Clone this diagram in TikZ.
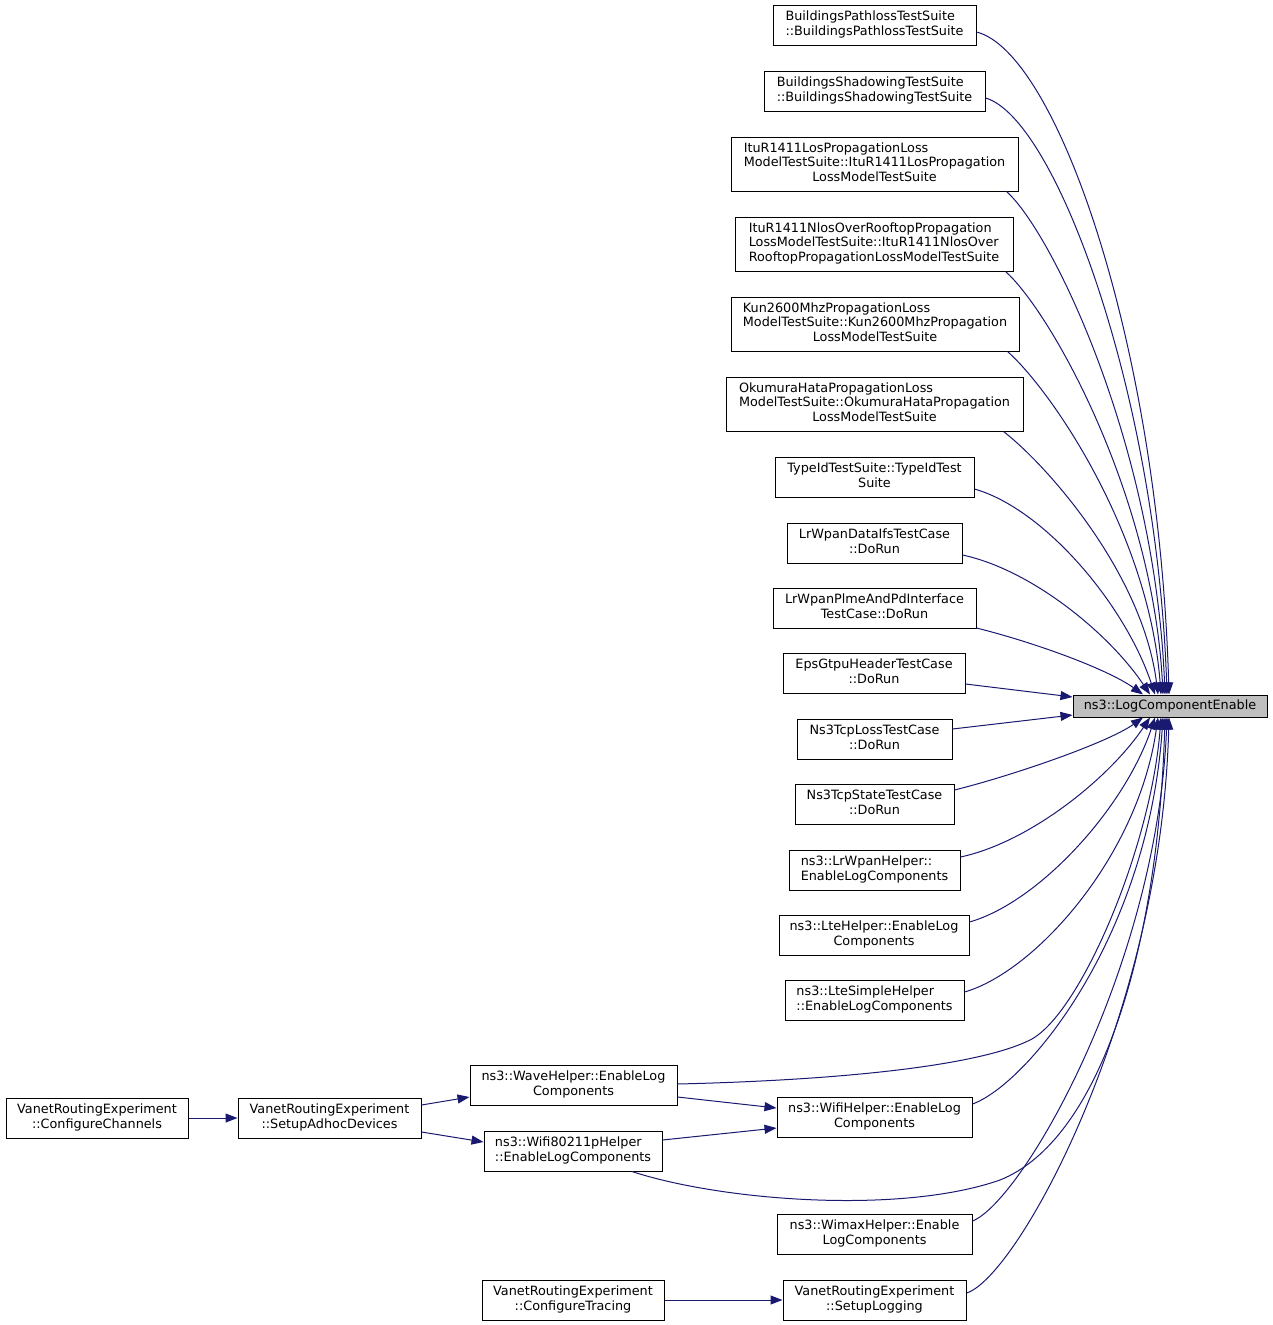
\documentclass[tikz,border=0pt]{standalone}
\usepackage{fontspec}
\setmainfont{DejaVu Sans}
\usetikzlibrary{arrows.meta}
\definecolor{edgeblue}{HTML}{191970}
\definecolor{maingrey}{HTML}{BFBFBF}
\newcommand{\twoline}[2]{\begin{tabular}{@{}l@{}}#1\\\multicolumn{1}{@{}c@{}}{#2}\end{tabular}}
\newcommand{\threeline}[3]{\begin{tabular}{@{}l@{}}#1\\#2\\\multicolumn{1}{@{}c@{}}{#3}\end{tabular}}
\tikzstyle{func} = [rectangle, minimum height=40pt, inner sep=0pt, text centered, draw=black, fill=white, line width=1pt, font=\fontsize{12.8}{14.5}\selectfont]
\tikzstyle{funcbig} = [func, minimum height=54pt]
\tikzstyle{target} = [func, minimum height=22pt, fill=maingrey]
\tikzstyle{arrow} = [-{Triangle[length=12pt,width=9pt]}, color=edgeblue, line width=1pt]

\begin{document}
\begin{tikzpicture}[x=1pt, y=-1pt]
\useasboundingbox (0,0) rectangle (1272,1325);
%被调用的函数
\node[target, minimum width=194pt](lce) at (1170,706){ns3::LogComponentEnable};
%调用者
\node[func, minimum width=203pt](bpl) at (874.5,25){\twoline{BuildingsPathlossTestSuite}{::BuildingsPathlossTestSuite}};
\node[func, minimum width=221pt](bsh) at (874.5,91){\twoline{BuildingsShadowingTestSuite}{::BuildingsShadowingTestSuite}};
\node[funcbig, minimum width=287pt](ilos) at (874.5,164){\threeline{ItuR1411LosPropagationLoss}{ModelTestSuite::ItuR1411LosPropagation}{LossModelTestSuite}};
\node[funcbig, minimum width=278pt](inlos) at (874,244){\threeline{ItuR1411NlosOverRooftopPropagation}{LossModelTestSuite::ItuR1411NlosOver}{RooftopPropagationLossModelTestSuite}};
\node[funcbig, minimum width=288pt](kun) at (875,324){\threeline{Kun2600MhzPropagationLoss}{ModelTestSuite::Kun2600MhzPropagation}{LossModelTestSuite}};
\node[funcbig, minimum width=297pt](oku) at (874.5,404){\threeline{OkumuraHataPropagationLoss}{ModelTestSuite::OkumuraHataPropagation}{LossModelTestSuite}};
\node[func, minimum width=199pt](tid) at (874.5,477){\twoline{TypeIdTestSuite::TypeIdTest}{Suite}};
\node[func, minimum width=175pt](ldi) at (874.5,543){\twoline{LrWpanDataIfsTestCase}{::DoRun}};
\node[func, minimum width=203pt](lpl) at (874.5,608){\twoline{LrWpanPlmeAndPdInterface}{TestCase::DoRun}};
\node[func, minimum width=182pt](eps) at (874,673){\twoline{EpsGtpuHeaderTestCase}{::DoRun}};
\node[func, minimum width=155pt](ntl) at (874.5,739){\twoline{Ns3TcpLossTestCase}{::DoRun}};
\node[func, minimum width=159pt](nts) at (874.5,804){\twoline{Ns3TcpStateTestCase}{::DoRun}};
\node[func, minimum width=171pt](lwh) at (874.5,870){\twoline{ns3::LrWpanHelper::}{EnableLogComponents}};
\node[func, minimum width=190pt](lte) at (874,935){\twoline{ns3::LteHelper::EnableLog}{Components}};
\node[func, minimum width=179pt](lts) at (874.5,1000){\twoline{ns3::LteSimpleHelper}{::EnableLogComponents}};
\node[func, minimum width=207pt](wave) at (573.5,1085){\twoline{ns3::WaveHelper::EnableLog}{Components}};
\node[func, minimum width=195pt](wifi) at (874.5,1117){\twoline{ns3::WifiHelper::EnableLog}{Components}};
\node[func, minimum width=178pt](w80) at (573,1151){\twoline{ns3::Wifi80211pHelper}{::EnableLogComponents}};
\node[func, minimum width=195pt](wim) at (874.5,1234){\twoline{ns3::WimaxHelper::Enable}{LogComponents}};
\node[func, minimum width=183pt](slog) at (874.5,1300){\twoline{VanetRoutingExperiment}{::SetupLogging}};
\node[func, minimum width=182pt](ctr) at (573,1300){\twoline{VanetRoutingExperiment}{::ConfigureTracing}};
\node[func, minimum width=183pt](adhoc) at (329.5,1118){\twoline{VanetRoutingExperiment}{::SetupAdhocDevices}};
\node[func, minimum width=182pt](cch) at (97,1118){\twoline{VanetRoutingExperiment}{::ConfigureChannels}};
\coordinate (wavebend) at (1030,1040);
\coordinate (w80bend) at (1000,1180);
%连接
\draw [arrow] ([yshift=-7pt]bpl.east) .. controls +(80,20) and +(-10,-350) .. ([xshift=-1pt]lce.north);
\draw [arrow] ([yshift=-7pt]bsh.east) .. controls +(70,20) and +(-10,-300) .. ([xshift=-3pt]lce.north);
\draw [arrow] ([xshift=-12pt]ilos.south east) .. controls +(45,40) and +(-10,-250) .. ([xshift=-5pt]lce.north);
\draw [arrow] ([xshift=-8pt]inlos.south east) .. controls +(45,40) and +(-10,-200) .. ([xshift=-7pt]lce.north);
\draw [arrow] ([xshift=-12pt]kun.south east) .. controls +(45,40) and +(-12,-160) .. ([xshift=-9pt]lce.north);
\draw [arrow] ([xshift=-20pt]oku.south east) .. controls +(45,35) and +(-15,-120) .. ([xshift=-12pt]lce.north);
\draw [arrow] ([yshift=-12pt]tid.east) .. controls +(70,20) and +(-30,-90) .. ([xshift=-15pt]lce.north);
\draw [arrow] ([yshift=-12pt]ldi.east) .. controls +(70,15) and +(-40,-60) .. ([xshift=-20pt]lce.north);
\draw [arrow] ([yshift=-20pt]lpl.east) .. controls +(60,15) and +(-35,-25) .. ([xshift=-27pt]lce.north);
\draw [arrow] ([yshift=-11pt]eps.east) -- ([yshift=9pt]lce.west);
\draw [arrow] ([yshift=10pt]ntl.east) -- ([yshift=-9pt]lce.west);
\draw [arrow] ([yshift=14pt]nts.east) .. controls +(60,-15) and +(-35,25) .. ([xshift=-27pt]lce.south);
\draw [arrow] ([yshift=13pt]lwh.east) .. controls +(70,-15) and +(-40,60) .. ([xshift=-20pt]lce.south);
\draw [arrow] ([yshift=13pt]lte.east) .. controls +(70,-20) and +(-30,90) .. ([xshift=-15pt]lce.south);
\draw [arrow] ([yshift=8pt]lts.east) .. controls +(70,-20) and +(-20,140) .. ([xshift=-12pt]lce.south);
\draw [arrow] ([yshift=1pt]wave.east) .. controls +(170,-4) and +(-50,25) .. (wavebend) .. controls +(50,-25) and +(-10,130) .. ([xshift=-9pt]lce.south);
\draw [arrow] ([yshift=13pt]wifi.east) .. controls +(55,-20) and +(-15,220) .. ([xshift=-7pt]lce.south);
\draw [arrow] ([xshift=59pt]w80.south) .. controls +(88,29) and +(-100,35) .. (w80bend) .. controls +(100,-40) and +(-7,233) .. ([xshift=-5pt]lce.south);
\draw [arrow] ([yshift=13pt]wim.east) .. controls +(50,-20) and +(-10,250) .. ([xshift=-3pt]lce.south);
\draw [arrow] ([yshift=7pt]slog.east) .. controls +(50,-15) and +(-8,300) .. ([xshift=-1pt]lce.south);
\draw [arrow] ([yshift=-12pt]wave.east) -- ([yshift=9pt]wifi.west);
\draw [arrow] ([yshift=11pt]w80.east) -- ([yshift=-11pt]wifi.west);
\draw [arrow] ([yshift=13pt]adhoc.east) -- ([yshift=-12pt]wave.west);
\draw [arrow] ([yshift=-14pt]adhoc.east) -- ([yshift=9pt]w80.west);
\draw [arrow] (cch) -- (adhoc);
\draw [arrow] (ctr) -- (slog);
\end{tikzpicture}
\end{document}
